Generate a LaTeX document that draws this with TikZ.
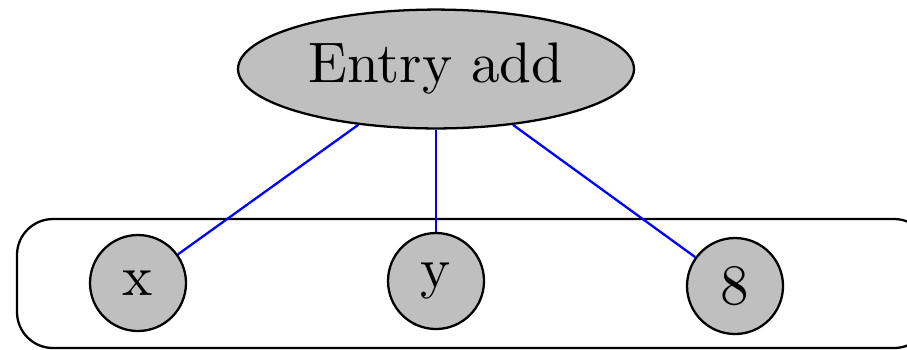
\documentclass[tikz,border=0pt]{standalone}
\usepackage{tikz}
\usetikzlibrary{shapes, positioning}

\begin{document}
\begin{tikzpicture}[
  x=0.175pt, y=-0.175pt,
  entry/.style={ellipse, draw, fill=black!25, minimum width=69.3pt, minimum height=20.8pt, inner sep=0pt},
  arg/.style={circle, draw, fill=black!25, minimum size=16.8pt, inner sep=0pt},
  link/.style={draw=blue},
]
  \useasboundingbox (0,0) rectangle (907,349);

  \draw[rounded corners=6.3pt] (17,219) rectangle (930,348);

  \node[entry] (add) at (436,69) {Entry add};
  \node[arg] (ax) at (138,283) {x};
  \node[arg] (ay) at (436,281) {y};
  \node[arg] (a8) at (735,286) {8};

  \draw[link] (add) -- (ax);
  \draw[link] (add) -- (ay);
  \draw[link] (add) -- (a8);
\end{tikzpicture}
\end{document}
